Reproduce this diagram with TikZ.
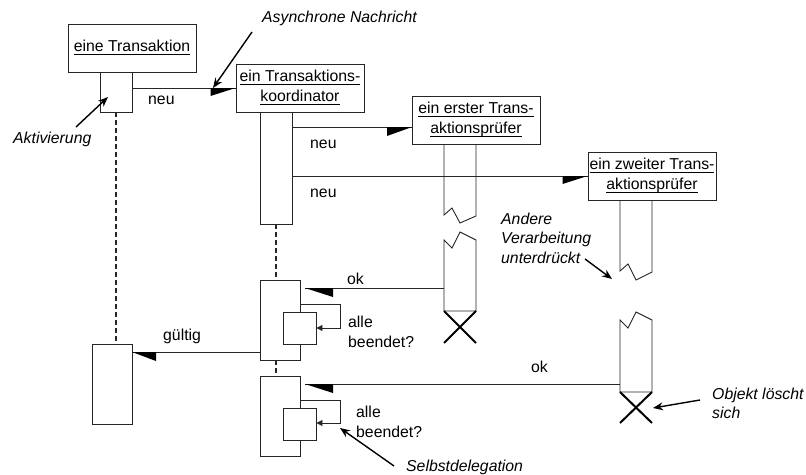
\documentclass[tikz,border=0pt]{standalone}
\usepackage{fontspec}
\setmainfont{Liberation Sans}
\usetikzlibrary{arrows.meta}
\newsavebox\ulxbox
\newcommand\ulx[1]{\sbox\ulxbox{#1}\rlap{\rule[-3.5pt]{\wd\ulxbox}{1pt}}\usebox\ulxbox}
\tikzset{
  every node/.style={font=\fontsize{15.8}{20}\selectfont, text=black},
  ln/.style={draw=black!85, line width=0.9pt},
  obj/.style={ln, fill=white, minimum width=128pt, minimum height=48pt, inner sep=0pt, align=center},
  act/.style={ln, fill=white, inner sep=0pt},
  life/.style={draw=black!85, line width=1.2pt, dash pattern=on 4.5pt off 3.5pt},
  msg/.style={draw=black!85, line width=0.9pt},
  selfmsg/.style={msg, -{Triangle[length=6pt,width=6pt]}},
  halfhead/.style={fill=black},
  note/.style={font=\fontsize{15.8}{19.5}\selectfont\itshape, inner sep=0pt, anchor=base west, align=left},
  lbl/.style={inner sep=0pt, anchor=base west, align=left},
  pointer/.style={draw=black, line width=1.4pt, -{Stealth[length=10pt,width=8pt]}},
  kill/.style={draw=black, line width=2pt},
  brk/.style={draw=black!85, line width=0.9pt, line join=miter},
}
\begin{document}
\begin{tikzpicture}[x=1pt,y=-1pt]
\useasboundingbox (0,0) rectangle (806,474);

% ---------- objects ----------
\node[obj] (T) at (132,48) {\ulx{eine Transaktion}};
\node[obj] (K) at (300,88) {\ulx{ein Transaktions-}\\\ulx{koordinator}};
\node[obj] (P1) at (476,120) {\ulx{ein erster Trans-}\\\ulx{aktionspr\"ufer}};
\node[obj] (P2) at (652,176) {\ulx{ein zweiter Trans-}\\\ulx{aktionspr\"ufer}};

% ---------- activations ----------
\node[act, minimum width=32pt, minimum height=40pt] (aT1) at (116,92) {};
\node[act, minimum width=40pt, minimum height=80pt] (aT2) at (112,384) {};
\node[act, minimum width=32pt, minimum height=112pt] (aK1) at (276,168) {};
\node[act, minimum width=40pt, minimum height=80pt] (aK2) at (280,320) {};
\node[act, minimum width=33pt, minimum height=32pt] (aK2n) at (299.5,328) {};
\node[act, minimum width=40pt, minimum height=80pt] (aK3) at (280,416) {};
\node[act, minimum width=33pt, minimum height=32pt] (aK3n) at (299.5,424) {};

% ---------- lifelines ----------
\draw[life] (aT1.south) -- (aT1.south |- aT2.north);
\draw[life] (aK1.south) -- (aK1.south |- aK2.north);
\draw[life] (aK1.south |- aK2.south) -- (aK1.south |- aK3.north);

% first checker: upper and lower piece
\coordinate (p1a) at (444,144);
\coordinate (p1b) at (476,144);
\draw[brk] (p1a) -- (444,215) -- (452,208) -- (460,223) -- (476,216) -- (p1b);
\coordinate (p1l) at (444,288);
\coordinate (x1a) at (444,311);
\coordinate (x1b) at (476,311);
\draw[brk] (x1a) -- (444,240) -- (452,248) -- (460,232) -- (476,240) -- (x1b) -- cycle;
\draw[kill] (x1a) -- (476,343);
\draw[kill] (x1b) -- (444,343);

% second checker: upper and lower piece
\coordinate (p2a) at (620,200);
\coordinate (p2b) at (652,200);
\draw[brk] (p2a) -- (620,271) -- (628,264) -- (636,280) -- (652,272) -- (p2b);
\coordinate (p2l) at (620,384);
\coordinate (x2a) at (620,392);
\coordinate (x2b) at (652,392);
\draw[brk] (x2a) -- (620,320) -- (628,328) -- (636,312) -- (652,320) -- (x2b) -- cycle;
\draw[kill] (x2a) -- (652,423);
\draw[kill] (x2b) -- (620,423);

% ---------- messages ----------
% neu (Transaktion -> Koordinator)
\draw[msg] (aT1.east |- K.west) -- (K.west);
\fill[halfhead] (K.west) -- ++(-25,0) -- ++(0,8) -- cycle;
\node[lbl] (n1) at (148,104) {neu};

% neu (Koordinator -> erster Pruefer)
\coordinate (p1in) at (412,127);
\draw[msg] (aK1.east |- p1in) -- (p1in);
\fill[halfhead] (p1in) -- ++(-25,0) -- ++(0,9) -- cycle;
\node[lbl] (n2) at (310,148.5) {neu};

% neu (Koordinator -> zweiter Pruefer)
\draw[msg] (aK1.east |- P2.west) -- (P2.west);
\fill[halfhead] (P2.west) -- ++(-25,0) -- ++(0,8) -- cycle;
\node[lbl] (n3) at (310,197) {neu};

% ok (erster Pruefer -> Koordinator)
\coordinate (ok1) at (305,288);
\draw[msg] (p1l) -- (ok1);
\fill[halfhead] (ok1) -- ++(28,0) -- ++(0,9) -- cycle;
\node[lbl] (o1) at (347,284) {ok};

% ok (zweiter Pruefer -> Koordinator)
\coordinate (ok2) at (305,384);
\draw[msg] (p2l) -- (ok2);
\fill[halfhead] (ok2) -- ++(28,0) -- ++(0,9) -- cycle;
\node[lbl] (o2) at (531,372) {ok};

% gueltig (Koordinator -> Transaktion)
\coordinate (g0) at (260,352);
\coordinate (g1) at (132,352);
\draw[msg] (g0) -- (g1);
\fill[halfhead] (g1) -- ++(24,0) -- ++(0,9) -- cycle;
\node[lbl] (gl) at (163,340.5) {g\"ultig};

% self delegations
\draw[selfmsg] (aK2.east |- 0,304) -- (340,304) -- (340,328) -- (aK2n.east);
\node[lbl] (s1) at (348,347.5) {alle\\beendet?};
\draw[selfmsg] (aK3.east |- 0,400) -- (340,400) -- (340,423) -- (aK3n.east |- 0,423);
\node[lbl] (s2) at (356,437) {alle\\beendet?};

% ---------- annotations ----------
\node[note] (nAsync) at (262,22.5) {Asynchrone Nachricht};
\coordinate (cAsync0) at (252,32);
\coordinate (cAsync1) at (213,88);
\draw[pointer] (cAsync0) -- (cAsync1);

\node[note] (nAkt) at (13,143.5) {Aktivierung};
\coordinate (cAkt0) at (76,127);
\coordinate (cAkt1) at (108,97);
\draw[pointer] (cAkt0) -- (cAkt1);

\node[note] (nAnd) at (501,263) {Andere\\Verarbeitung\\unterdr\"uckt};
\coordinate (cAnd0) at (585,259);
\coordinate (cAnd1) at (612,279);
\draw[pointer] (cAnd0) -- (cAnd1);

\node[note] (nObj) at (712,418.5) {Objekt l\"oscht\\sich};
\coordinate (cObj0) at (700,400);
\coordinate (cObj1) at (653,408);
\draw[pointer] (cObj0) -- (cObj1);

\node[note] (nSelf) at (406,471.5) {Selbstdelegation};
\coordinate (cSelf0) at (394,466);
\coordinate (cSelf1) at (340,428);
\draw[pointer] (cSelf0) -- (cSelf1);
\end{tikzpicture}
\end{document}
